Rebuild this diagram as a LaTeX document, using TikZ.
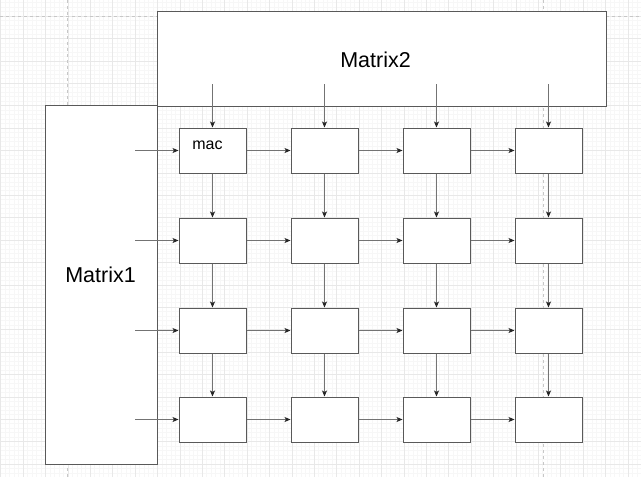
\documentclass[tikz,border=0pt]{standalone}
\usepackage{fontspec}
\setmainfont{Liberation Sans}
\usetikzlibrary{arrows.meta}

\tikzset{
    gridline/.style={line width=0.6pt,black!9},
    gridfine/.style={line width=0.5pt,black!3},
    pagebreak/.style={line width=0.7pt,black!22,dash pattern=on 3pt off 3pt},
    matbox/.style={draw=black!65,line width=1pt,fill=white},
    macbox/.style={draw=black!65,line width=1pt,fill=white,minimum width=67pt,minimum height=45pt,inner sep=0pt},
    flow/.style={black!55,line width=0.8pt,-{Stealth[length=6pt,width=5pt,inset=1.5pt,black!85]}}
}

\begin{document}
\begin{tikzpicture}[x=1pt,y=-1pt]
    \useasboundingbox (0,0) rectangle (641,477);
    \fill[white] (0,0) rectangle (641,477);

    % background grid
    \foreach \i in {0,...,145} {
        \draw[gridfine] ({0.6+4.48*\i},0) -- ({0.6+4.48*\i},477);
    }
    \foreach \i in {0,...,108} {
        \draw[gridfine] (0,{-6.4+4.48*\i}) -- (641,{-6.4+4.48*\i});
    }
    \foreach \i in {0,...,28} {
        \draw[gridline] ({0.6+22.4*\i},0) -- ({0.6+22.4*\i},477);
    }
    \foreach \i in {0,...,22} {
        \draw[gridline] (0,{-6.4+22.4*\i}) -- (641,{-6.4+22.4*\i});
    }
    % page breaks
    \draw[pagebreak] (67.4,0) -- (67.4,477);
    \draw[pagebreak] (543,0) -- (543,477);
    \draw[pagebreak] (0,16) -- (641,16);

    % the two input matrices
    \draw[matbox] (157,11) rectangle (606,106);
    \node[font=\fontsize{21.5}{24}\selectfont,anchor=base] (m2lbl) at (375.5,67.7) {Matrix2};
    \draw[matbox] (45,105) rectangle (157,464);
    \node[font=\fontsize{21.5}{24}\selectfont,anchor=base] (m1lbl) at (100.5,282.7) {Matrix1};

    % mac array
    \foreach \r/\y in {1/150.5,2/240.5,3/330.5,4/419.5} {
        \foreach \c/\x in {1/212.5,2/324.5,3/436.5,4/548.5} {
            \node[macbox] (m-\r-\c) at (\x,\y) {};
        }
    }
    \node[font=\fontsize{16}{18}\selectfont,anchor=base] (maclbl) at (207.5,149) {mac};

    % inputs from the matrices
    \foreach \c/\x in {1/212.5,2/324.5,3/436.5,4/548.5} {
        \coordinate (top-\c) at (\x,84);
        \draw[flow] (top-\c) -- (m-1-\c.north);
    }
    \foreach \r/\y in {1/150.5,2/240.5,3/330.5,4/419.5} {
        \coordinate (left-\r) at (135,\y);
        \draw[flow] (left-\r) -- (m-\r-1.west);
    }

    % links inside the array
    \foreach \r in {1,...,4} {
        \foreach \c [count=\n from 2] in {1,2,3} {
            \draw[flow] (m-\r-\c.east) -- (m-\r-\n.west);
        }
    }
    \foreach \c in {1,...,4} {
        \foreach \r [count=\n from 2] in {1,2,3} {
            \draw[flow] (m-\r-\c.south) -- (m-\n-\c.north);
        }
    }
\end{tikzpicture}
\end{document}
